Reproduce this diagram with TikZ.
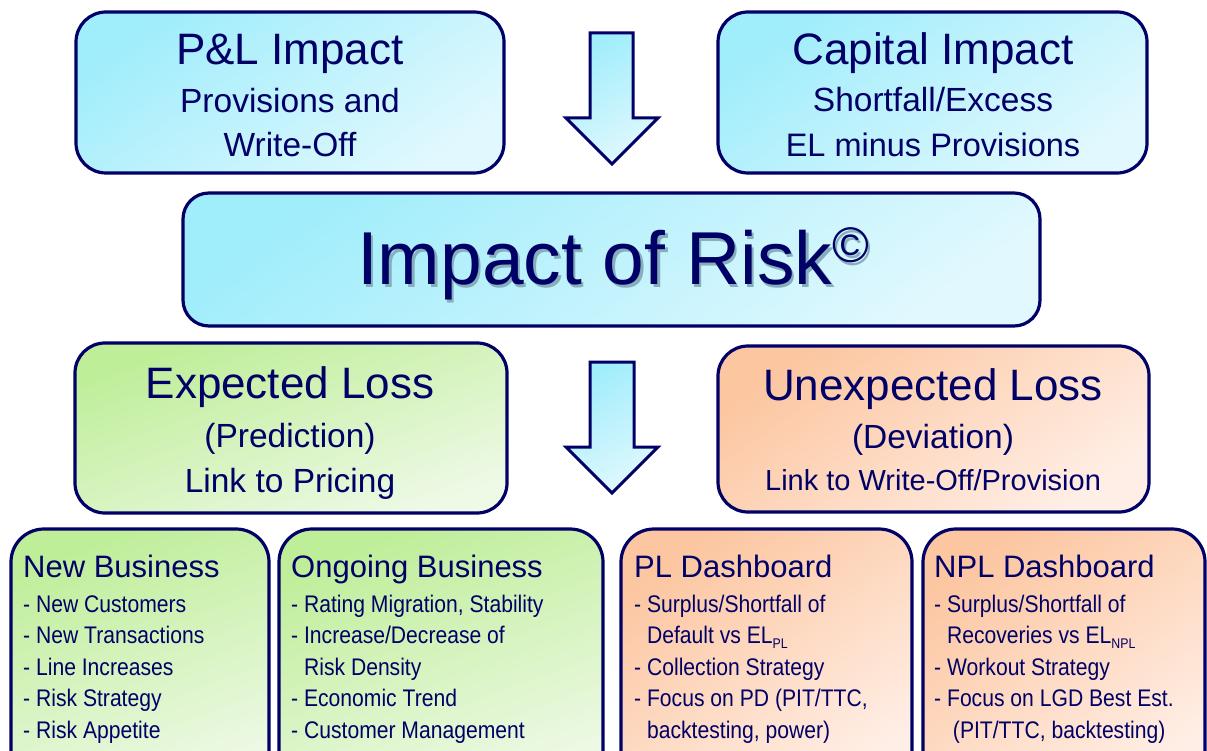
\documentclass[tikz,border=0pt]{standalone}
\usepackage{fontspec}
\setmainfont{Liberation Sans}
\newfontfamily\narrowf[FakeStretch=0.88]{Liberation Sans}
\definecolor{navy}{HTML}{000066}
\definecolor{bA}{HTML}{A0EDFB}
\definecolor{bB}{HTML}{E0F8FE}
\definecolor{gA}{HTML}{BEEE98}
\definecolor{gB}{HTML}{EEF9E6}
\definecolor{oA}{HTML}{FCC6A0}
\definecolor{oB}{HTML}{FFEEE5}
\definecolor{shadowc}{HTML}{86AEBD}
\tikzset{
  box/.style={draw=navy, line width=3.2pt, rounded corners=#1, inner sep=0pt, shape=rectangle},
  box/.default=30pt,
  bluefill/.style={top color=bA, bottom color=bB, shading angle=35},
  greenfill/.style={top color=gA, bottom color=gB, shading angle=20},
  orangefill/.style={top color=oA, bottom color=oB, shading angle=35},
  bigtxt/.style={text=navy, inner sep=0pt, anchor=base, font=\fontsize{44}{48}\selectfont},
  midtxt/.style={text=navy, inner sep=0pt, anchor=base, font=\fontsize{33.5}{36}\selectfont},
  ttl/.style={text=navy, inner sep=0pt, anchor=base west, font=\fontsize{31}{34}\selectfont},
  itm/.style={text=navy, inner sep=0pt, anchor=base west, font=\narrowf\fontsize{24}{28}\selectfont},
  blockarrow/.style={draw=navy, line width=3pt, line join=miter, top color=bA, bottom color=bB, shading angle=30}
}
\newcommand{\subsc}[1]{\raisebox{-5pt}{\fontsize{14}{14}\selectfont #1}}
\newcommand{\ind}{\phantom{- }}
\newcommand{\impacttext}{Impact of Risk\raisebox{22pt}{\fontsize{50}{50}\selectfont ©}}
\begin{document}
\begin{tikzpicture}[x=1pt,y=-1pt]
\useasboundingbox (0,0) rectangle (1207,751);
\clip (0,0) rectangle (1207,751);
\fill[white] (0,0) rectangle (1207,751);

% top boxes
\node[box, bluefill, minimum width=428pt, minimum height=161pt] (pl) at (290,92.5) {};
\node[box, bluefill, minimum width=429pt, minimum height=161pt] (cap) at (932.5,92.5) {};
\node[box=26pt, bluefill, minimum width=857pt, minimum height=133pt] (imp) at (611.5,259.5) {};
\node[box, greenfill, minimum width=432pt, minimum height=170pt] (el) at (291,428) {};
\node[box, orangefill, minimum width=431pt, minimum height=166pt] (ul) at (933.5,429) {};

% bottom boxes
\node[box=33pt, greenfill, minimum width=258pt, minimum height=261pt] (nb) at (140,659.5) {};
\node[box=33pt, greenfill, minimum width=324pt, minimum height=261pt] (ob) at (441,659.5) {};
\node[box=33pt, orangefill, minimum width=291pt, minimum height=261pt] (pd) at (766.5,659.5) {};
\node[box=33pt, orangefill, minimum width=282pt, minimum height=261pt] (nd) at (1064,659.5) {};

% block arrows
\path[blockarrow] (590,33) -- (633,33) -- (633,118) -- (658,118) -- (612,164) -- (566,118) -- (590,118) -- cycle;
\path[blockarrow] (590,362) -- (634,362) -- (634,447) -- (658,447) -- (612,493) -- (566,447) -- (590,447) -- cycle;

% top box texts
\node[bigtxt] (plA) at (290,65) {P\&L Impact};
\node[midtxt] (plB) at (290,113) {Provisions and};
\node[midtxt] (plC) at (290,157) {Write-Off};
\node[bigtxt] (capA) at (933,65) {Capital Impact};
\node[midtxt] (capB) at (933,112) {Shortfall/Excess};
\node[midtxt, font=\fontsize{32.5}{36}\selectfont] (capC) at (933,157) {EL minus Provisions};

% impact of risk (text with soft shadow in one node)
\node[text=navy, inner sep=0pt, anchor=base, font=\fontsize{75}{80}\selectfont] (impT) at (613,285)
  {\rlap{\hspace{2.5pt}\raisebox{-2.5pt}{\color{shadowc}\impacttext}}\impacttext};

% expected / unexpected
\node[bigtxt] (elA) at (290,398) {Expected Loss};
\node[midtxt] (elB) at (290,447) {(Prediction)};
\node[midtxt] (elC) at (290,492) {Link to Pricing};
\node[bigtxt] (ulA) at (933,400) {Unexpected Loss};
\node[midtxt] (ulB) at (933,448) {(Deviation)};
\node[midtxt, font=\fontsize{29}{32}\selectfont] (ulC) at (933,490) {Link to Write-Off/Provision};

% New Business
\node[ttl] (nbT) at (23,577) {New Business};
\node[itm] (nb1) at (23,612) {- New Customers};
\node[itm] (nb2) at (23,643.5) {- New Transactions};
\node[itm] (nb3) at (23,675) {- Line Increases};
\node[itm] (nb4) at (23,706.5) {- Risk Strategy};
\node[itm] (nb5) at (23,738) {- Risk Appetite};

% Ongoing Business
\node[ttl] (obT) at (291,577) {Ongoing Business};
\node[itm] (ob1) at (291,612) {- Rating Migration, Stability};
\node[itm] (ob2) at (291,643.5) {- Increase/Decrease of};
\node[itm] (ob3) at (291,675) {\ind Risk Density};
\node[itm] (ob4) at (291,706.5) {- Economic Trend};
\node[itm] (ob5) at (291,738) {- Customer Management};

% PL Dashboard
\node[ttl] (pdT) at (634,577) {PL Dashboard};
\node[itm] (pd1) at (634,612) {- Surplus/Shortfall of};
\node[itm] (pd2) at (634,643.5) {\ind Default vs EL\subsc{PL}};
\node[itm] (pd3) at (634,675) {- Collection Strategy};
\node[itm] (pd4) at (634,706.5) {- Focus on PD (PIT/TTC,};
\node[itm] (pd5) at (634,738) {\ind backtesting, power)};

% NPL Dashboard
\node[ttl] (ndT) at (934,577) {NPL Dashboard};
\node[itm] (nd1) at (934,612) {- Surplus/Shortfall of};
\node[itm] (nd2) at (934,643.5) {\ind Recoveries vs EL\subsc{NPL}};
\node[itm] (nd3) at (934,675) {- Workout Strategy};
\node[itm] (nd4) at (934,706.5) {- Focus on LGD Best Est.};
\node[itm] (nd5) at (934,738) {\ind\ (PIT/TTC, backtesting)};
\end{tikzpicture}
\end{document}
